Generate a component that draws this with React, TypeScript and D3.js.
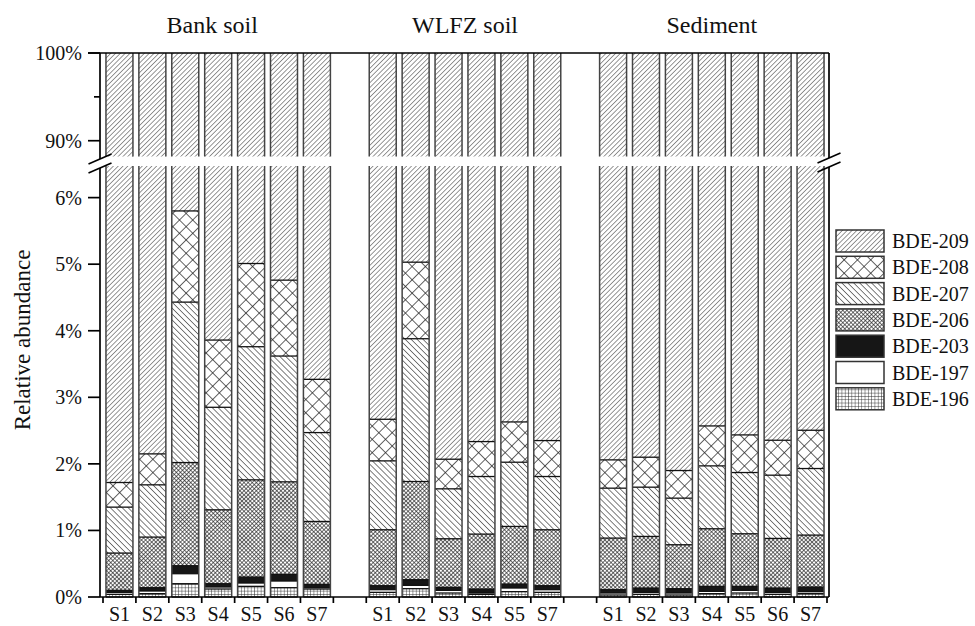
import React from "react";
import * as d3 from "d3";

const groups = ["Bank soil", "WLFZ soil", "Sediment"];
const groupSamples = [
  ["S1", "S2", "S3", "S4", "S5", "S6", "S7"],
  ["S1", "S2", "S3", "S4", "S5", "S7"],
  ["S1", "S2", "S3", "S4", "S5", "S6", "S7"],
];

// stacking order, bottom to top
const congeners = ["BDE-196", "BDE-197", "BDE-203", "BDE-206", "BDE-207", "BDE-208", "BDE-209"];

// values in %, bars in order: Bank S1-S7, WLFZ S1-S5,S7, Sediment S1-S7
const bde196 = [0.04, 0.05, 0.2, 0.12, 0.16, 0.14, 0.12, 0.07, 0.125, 0.06, 0.04, 0.08, 0.07, 0.03, 0.04, 0.03, 0.05, 0.06, 0.04, 0.05];
const bde197 = [0.03, 0.04, 0.15, 0.03, 0.05, 0.1, 0.02, 0.04, 0.05, 0.04, 0.02, 0.055, 0.04, 0.03, 0.03, 0.03, 0.035, 0.04, 0.03, 0.03];
const bde203 = [0.03, 0.05, 0.12, 0.05, 0.09, 0.1, 0.05, 0.06, 0.085, 0.045, 0.06, 0.06, 0.06, 0.05, 0.065, 0.065, 0.075, 0.06, 0.065, 0.07];
const bde206 = [0.56, 0.76, 1.55, 1.11, 1.46, 1.39, 0.945, 0.84, 1.475, 0.73, 0.825, 0.865, 0.84, 0.775, 0.775, 0.66, 0.865, 0.79, 0.745, 0.78];
const bde207 = [0.69, 0.785, 2.41, 1.54, 2.0, 1.89, 1.335, 1.035, 2.145, 0.75, 0.865, 0.965, 0.8, 0.75, 0.74, 0.7, 0.945, 0.92, 0.95, 1.0];
const bde208 = [0.37, 0.465, 1.37, 1.01, 1.25, 1.14, 0.8, 0.625, 1.15, 0.445, 0.525, 0.605, 0.54, 0.425, 0.45, 0.415, 0.6, 0.565, 0.525, 0.575];
const bde209 = [98.28, 97.85, 94.2, 96.14, 94.99, 95.24, 96.73, 97.33, 94.97, 97.93, 97.665, 97.37, 97.65, 97.94, 97.9, 98.1, 97.43, 97.565, 97.645, 97.495];

const lowTicks = [0, 1, 2, 3, 4, 5, 6];
const highTicks = [90, 100];
const highMinor = [95];

const font = "Liberation Serif, Times New Roman, DejaVu Serif, serif";
const left = 100, right = 829, bottom = 597, top = 53;
const lowTopPx = 166, highBottomPx = 156.5;
const lowMax = 6.475, highMin = 88.2;

const seriesValues: Record<string, number[]> = {
  "BDE-196": bde196, "BDE-197": bde197, "BDE-203": bde203, "BDE-206": bde206,
  "BDE-207": bde207, "BDE-208": bde208, "BDE-209": bde209,
};

const fills: Record<string, string> = {
  "BDE-209": "url(#p209)", "BDE-208": "url(#p208)", "BDE-207": "url(#p207)",
  "BDE-206": "url(#p206)", "BDE-203": "#161616", "BDE-197": "#fff", "BDE-196": "url(#p196)",
};

const txt = { fontFamily: font, fill: "#111" };

export default function App() {
  // slots: bars plus one empty slot between groups
  const slots: string[] = [];
  const bars: { slot: string; group: number; sample: string }[] = [];
  groups.forEach((g, gi) => {
    if (gi > 0) slots.push("gap" + gi);
    groupSamples[gi].forEach(s => {
      slots.push(g + "|" + s);
      bars.push({ slot: g + "|" + s, group: gi, sample: s });
    });
  });

  const x = d3.scaleBand().domain(slots).range([103, 827]).paddingInner(0.18).paddingOuter(0.09);
  const step = x.step();
  const x0 = 103;
  const bw = x.bandwidth();

  const yLow = d3.scaleLinear().domain([0, lowMax]).range([bottom, lowTopPx]);
  const yHigh = d3.scaleLinear().domain([highMin, 100]).range([highBottomPx, top]);

  const rows = bars.map((b, i) => {
    const r: any = { slot: b.slot };
    congeners.forEach(c => (r[c] = seriesValues[c][i]));
    return r;
  });
  const stacked = d3.stack<any>().keys(congeners)(rows);

  const segs: any[] = [];
  const lines: any[] = [];
  stacked.forEach(layer => {
    layer.forEach(d => {
      const bx = x(d.data.slot) as number;
      const v0 = d[0], v1 = d[1];
      if (v0 < lowMax) {
        const t = yLow(Math.min(v1, lowMax));
        segs.push({ key: layer.key, x: bx, y: t, h: yLow(v0) - t });
        if (v1 <= lowMax) lines.push({ x: bx, y: yLow(v1) });
      }
      if (v1 > highMin) {
        const t = yHigh(v1);
        segs.push({ key: layer.key, x: bx, y: t, h: yHigh(Math.max(v0, highMin)) - t });
      }
    });
  });

  const tickXs = d3.range(slots.length + 1).map(i => x0 + i * step);
  const legendOrder = congeners.slice().reverse();

  const brk = (cx: number, cy: number) => (
    <line x1={cx - 11.5} y1={cy + 5} x2={cx + 11.5} y2={cy - 5} stroke="#000" strokeWidth={1.6} />
  );

  return (
    <svg width={975} height={626} style={{ position: "absolute", left: 0, top: 0, background: "#fff" }}>
      <defs>
        <pattern id="p209" width={3.4} height={3.4} patternUnits="userSpaceOnUse" patternTransform="rotate(45)">
          <rect width={3.4} height={3.4} fill="#fff" />
          <line x1={0} y1={0} x2={0} y2={3.4} stroke="#2e2e2e" strokeWidth={1} />
        </pattern>
        <pattern id="p207" width={4.2} height={4.2} patternUnits="userSpaceOnUse" patternTransform="rotate(-45)">
          <rect width={4.2} height={4.2} fill="#fff" />
          <line x1={0} y1={0} x2={0} y2={4.2} stroke="#222" strokeWidth={1.15} />
        </pattern>
        <pattern id="p208" width={9.4} height={9.4} patternUnits="userSpaceOnUse" patternTransform="rotate(45)">
          <rect width={9.4} height={9.4} fill="#fff" />
          <line x1={0} y1={0} x2={0} y2={9.4} stroke="#222" strokeWidth={1.4} />
          <line x1={0} y1={0} x2={9.4} y2={0} stroke="#222" strokeWidth={1.4} />
        </pattern>
        <pattern id="p206" width={2.9} height={2.9} patternUnits="userSpaceOnUse" patternTransform="rotate(45)">
          <rect width={2.9} height={2.9} fill="#fff" />
          <line x1={0} y1={0} x2={0} y2={2.9} stroke="#222" strokeWidth={1.3} />
          <line x1={0} y1={0} x2={2.9} y2={0} stroke="#222" strokeWidth={1.3} />
        </pattern>
        <pattern id="p196" width={3.3} height={3.3} patternUnits="userSpaceOnUse">
          <rect width={3.3} height={3.3} fill="#fff" />
          <line x1={0} y1={0} x2={0} y2={3.3} stroke="#222" strokeWidth={0.9} />
          <line x1={0} y1={0} x2={3.3} y2={0} stroke="#222" strokeWidth={0.9} />
        </pattern>
      </defs>

      {/* bar segments */}
      {segs.map((s, i) => (
        <rect key={i} x={s.x} y={s.y} width={bw} height={Math.max(0, s.h)} fill={fills[s.key]} />
      ))}
      {/* segment boundaries */}
      {lines.map((l, i) => (
        <line key={i} x1={l.x} x2={l.x + bw} y1={l.y} y2={l.y} stroke="#111" strokeWidth={1.3} />
      ))}
      {/* bar sides, per panel */}
      {bars.map(b => {
        const bx = x(b.slot) as number;
        return (
          <g key={b.slot} stroke="#444" strokeWidth={1.5}>
            <line x1={bx} x2={bx} y1={bottom} y2={lowTopPx} />
            <line x1={bx + bw} x2={bx + bw} y1={bottom} y2={lowTopPx} />
            <line x1={bx} x2={bx} y1={highBottomPx} y2={top} />
            <line x1={bx + bw} x2={bx + bw} y1={highBottomPx} y2={top} />
            <line x1={bx} x2={bx + bw} y1={yLow(0)} y2={yLow(0)} />
          </g>
        );
      })}

      {/* frame */}
      <g stroke="#000" strokeWidth={1.7}>
        <line x1={left - 12} x2={right} y1={top} y2={top} />
        <line x1={left} x2={right} y1={bottom} y2={bottom} />
        <line x1={left} x2={left} y1={top} y2={159} />
        <line x1={left} x2={left} y1={168} y2={bottom} />
        <line x1={right} x2={right} y1={top} y2={158} />
        <line x1={right} x2={right} y1={167} y2={bottom} />
      </g>
      {brk(left, 159)}
      {brk(left, 168)}
      {brk(right, 158)}
      {brk(right, 167)}

      {/* y ticks */}
      {lowTicks.map(t => (
        <g key={"l" + t}>
          <line x1={left - 12} x2={left} y1={yLow(t)} y2={yLow(t)} stroke="#000" strokeWidth={1.7} />
          <text x={82} y={yLow(t)} dy="0.35em" textAnchor="end" fontSize={20} style={txt}>{t + "%"}</text>
        </g>
      ))}
      {highTicks.map(t => (
        <g key={"h" + t}>
          <line x1={left - 12} x2={left} y1={yHigh(t)} y2={yHigh(t)} stroke="#000" strokeWidth={1.7} />
          <text x={82} y={yHigh(t)} dy="0.35em" textAnchor="end" fontSize={20} style={txt}>{t + "%"}</text>
        </g>
      ))}
      {highMinor.map(t => (
        <line key={"m" + t} x1={left - 6} x2={left} y1={yHigh(t)} y2={yHigh(t)} stroke="#000" strokeWidth={1.7} />
      ))}

      {/* x ticks and labels */}
      {tickXs.map((tx, i) => (
        <line key={"t" + i} x1={tx} x2={tx} y1={bottom} y2={bottom + 6} stroke="#000" strokeWidth={1.7} />
      ))}
      {bars.map(b => (
        <text key={"x" + b.slot} x={(x(b.slot) as number) + bw / 2} y={621} textAnchor="middle" fontSize={20} style={txt}>
          {b.sample}
        </text>
      ))}

      {/* group titles */}
      {groups.map((g, gi) => {
        const s = groupSamples[gi];
        const a = x(g + "|" + s[0]) as number;
        const z = (x(g + "|" + s[s.length - 1]) as number) + bw;
        return (
          <text key={g} x={(a + z) / 2 - (gi === 0 ? 6 : 0)} y={33} textAnchor="middle" fontSize={24} style={txt}>{g}</text>
        );
      })}

      <text transform="translate(30,340) rotate(-90)" textAnchor="middle" fontSize={23} style={txt}>Relative abundance</text>

      {/* legend */}
      {legendOrder.map((c, i) => {
        const ly = 230 + i * 26.3;
        return (
          <g key={c}>
            <rect x={836} y={ly} width={48} height={22} fill={fills[c]} stroke="#333" strokeWidth={1.5} />
            <text x={892} y={ly + 11} dy="0.35em" fontSize={20} style={txt}>{c}</text>
          </g>
        );
      })}
    </svg>
  );
}
